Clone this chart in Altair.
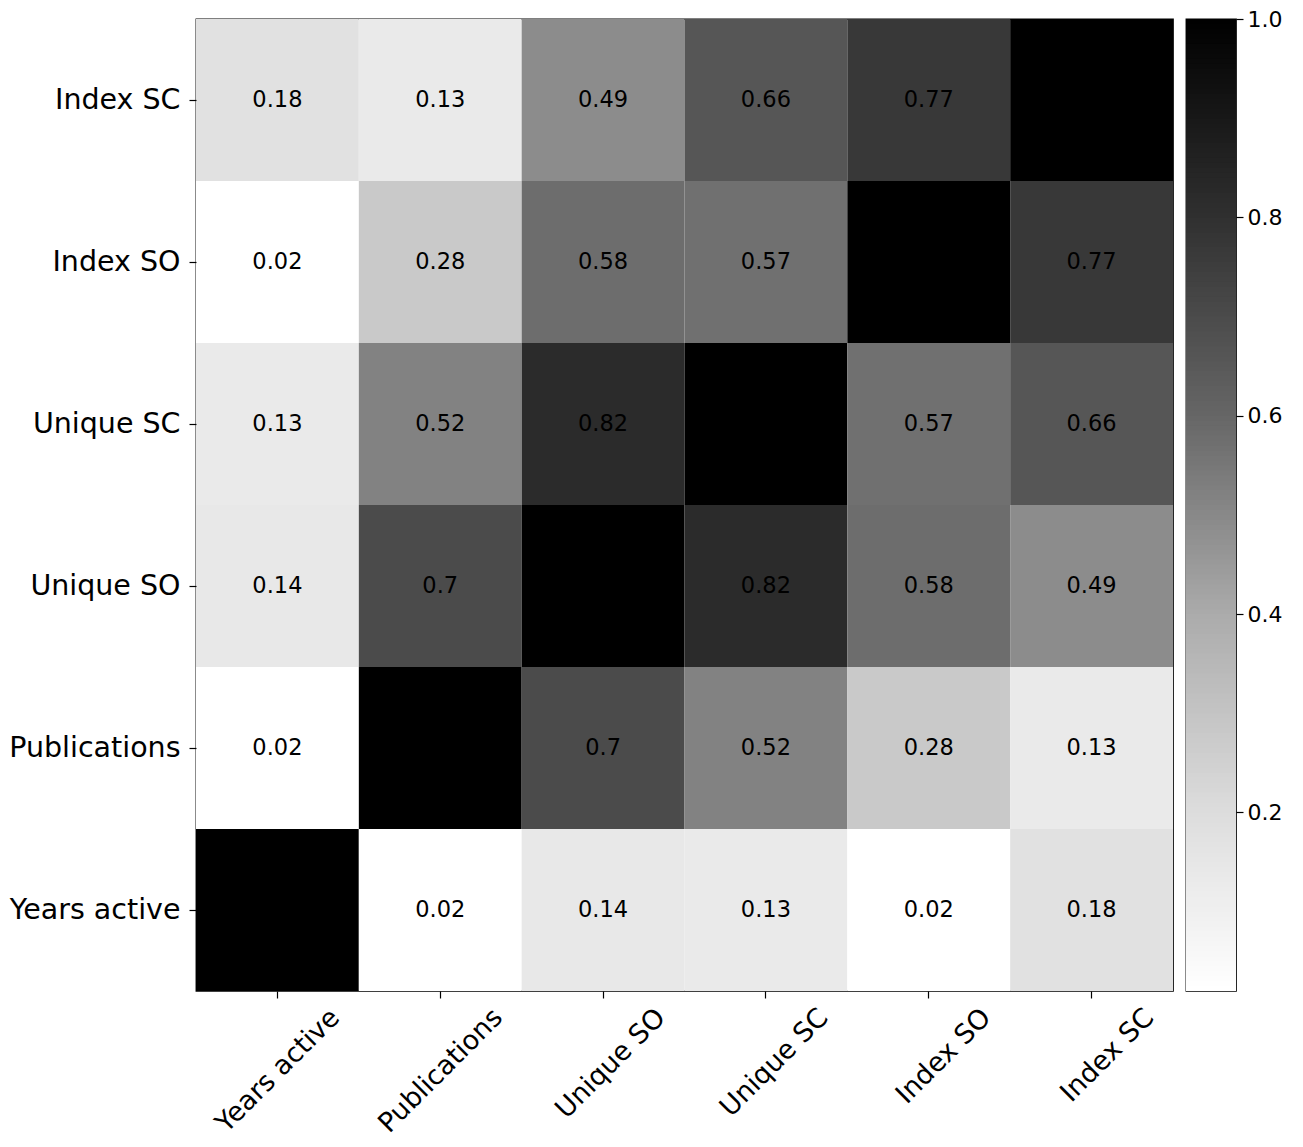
import altair as alt
import numpy as np
import pandas as pd

cols = ["Years active", "Publications", "Unique SO", "Unique SC", "Index SO", "Index SC"]
rows_top = ["Index SC", "Index SO", "Unique SC", "Unique SO", "Publications", "Years active"]

# correlation matrix in the order of `cols` (symmetric)
m_years = [1.0, 0.02, 0.14, 0.13, 0.02, 0.18]
m_pubs = [0.02, 1.0, 0.7, 0.52, 0.28, 0.13]
m_uso = [0.14, 0.7, 1.0, 0.82, 0.58, 0.49]
m_usc = [0.13, 0.52, 0.82, 1.0, 0.57, 0.66]
m_iso = [0.02, 0.28, 0.58, 0.57, 1.0, 0.77]
m_isc = [0.18, 0.13, 0.49, 0.66, 0.77, 1.0]
matrix = [m_years, m_pubs, m_uso, m_usc, m_iso, m_isc]

cbar_ticks = [0.2, 0.4, 0.6, 0.8, 1.0]
vmin, vmax = 0.02, 1.0

recs = []
for i, r in enumerate(cols):
    for j, c in enumerate(cols):
        v = matrix[i][j]
        recs.append({"row": r, "col": c, "v": v,
                     "lab": "" if i == j else str(v)})
df = pd.DataFrame(recs)

color_scale = alt.Scale(domain=[0.02, 0.2, 0.4, 0.6, 0.8, 1.0],
                        range=["#ffffff", "#dddddd", "#ababab", "#666666", "#303030", "#000000"],
                        interpolate="rgb")

FONT = "DejaVu Sans"

base = alt.Chart(df)
rect = base.mark_rect().encode(
    x=alt.X("col:N", sort=cols, title=None,
            scale=alt.Scale(paddingInner=0, paddingOuter=0),
            axis=alt.Axis(labelAngle=-45, labelAlign="right", labelBaseline="middle",
                          labelOffset=58, labelPadding=15, tickSize=7,
                          labelFontSize=27, domain=False)),
    y=alt.Y("row:N", sort=rows_top, title=None,
            scale=alt.Scale(paddingInner=0, paddingOuter=0),
            axis=alt.Axis(labelFontSize=28.5, tickSize=7, labelPadding=9, domain=False)),
    color=alt.Color("v:Q", scale=color_scale, legend=None),
)
text = base.mark_text(fontSize=22.5, font=FONT, color="black").encode(
    x=alt.X("col:N", sort=cols),
    y=alt.Y("row:N", sort=rows_top),
    text="lab:N",
)
heat = alt.layer(rect, text).properties(width=977, height=972)

edges = np.linspace(vmin, vmax, 197)
step = edges[1] - edges[0]
cb = pd.DataFrame({"lo": edges[:-1],
                   "hi": np.minimum(edges[1:] + step, vmax),
                   "v": (edges[:-1] + edges[1:]) / 2})
cbar = alt.Chart(cb).mark_rect().encode(
    x=alt.value(0), x2=alt.value(50),
    y=alt.Y("lo:Q", title=None,
            scale=alt.Scale(domain=[vmin, vmax], nice=False, zero=False),
            axis=alt.Axis(orient="right", values=cbar_ticks, format=".1f",
                          labelFontSize=22, tickSize=7, labelPadding=4,
                          domain=False, grid=False)),
    y2="hi:Q",
    color=alt.Color("v:Q", scale=color_scale, legend=None),
).properties(width=50, height=972)

chart = alt.hconcat(heat, cbar, spacing=11).resolve_scale(color="shared").properties(
    padding={"left": 0, "top": -1, "right": 5, "bottom": 0}
).configure_view(stroke="black", strokeWidth=1.3).configure_axis(
    labelFont=FONT, labelColor="black", tickColor="black", tickWidth=1.2, grid=False
)

chart.save("out.html", embed_options={"renderer": "svg", "actions": False})
